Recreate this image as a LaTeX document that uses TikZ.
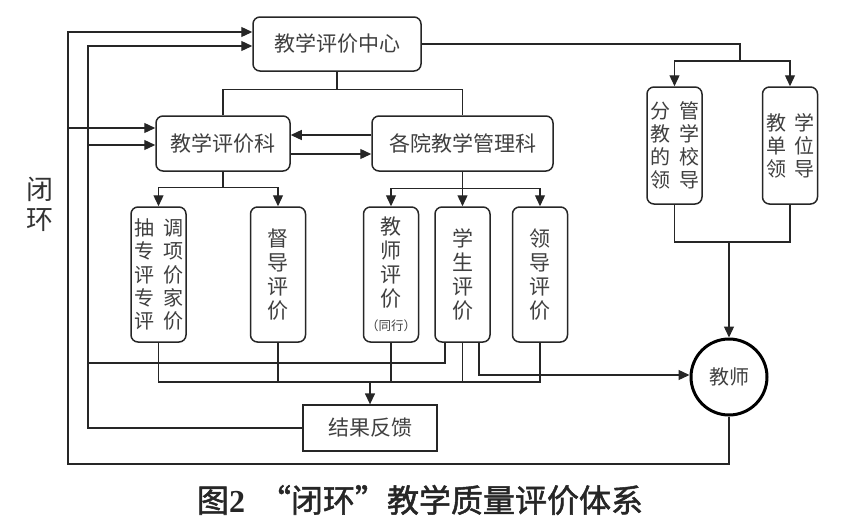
\documentclass[tikz,border=0pt]{standalone}
\usepackage{fontspec}
\newfontfamily\cjk{Noto Sans CJK SC}
\newfontfamily\cjkcap[FakeBold=1.6]{Noto Sans CJK SC}
\newfontfamily\serifb{Liberation Serif}
\usetikzlibrary{arrows.meta}
\begin{document}
\begin{tikzpicture}[x=1pt,y=-1pt,
  line/.style={draw=black!85, line width=1.3pt},
  arr/.style={line, -{Triangle[length=11pt,width=10pt]}},
  rbox/.style={draw=black!85, line width=1.5pt, rounded corners=7pt, fill=white, inner sep=0pt,
    font=\cjk\fontsize{21}{24}\selectfont, text=black!75, align=center},
  vbox/.style={rbox, minimum width=55pt, minimum height=135pt},
  hbox/.style={rbox, minimum width=55pt, minimum height=117pt, font=\cjk\fontsize{20}{23}\selectfont},
]
\useasboundingbox (0,0) rectangle (847,525);

% main boxes
\node[rbox, minimum width=168pt, minimum height=54pt] (center) at (337,44) {教学评价中心};
\node[rbox, minimum width=134pt, minimum height=55pt] (kepj) at (223,143.5) {教学评价科};
\node[rbox, minimum width=181pt, minimum height=55pt] (geyuan) at (462.5,143.5) {各院教学管理科};

% bottom vertical boxes
\node[vbox, font=\cjk\fontsize{20}{23.3}\selectfont] (chou) at (158.5,274.5) {抽\hspace{9pt}调\\专\hspace{9pt}项\\评\hspace{9pt}价\\专\hspace{9pt}家\\评\hspace{9pt}价};
\node[vbox] (dudao) at (278,274.5) {督\\导\\评\\价};
\node[vbox] (jiaoshi) at (391,274.5) {教\\师\\评\\价\\{\fontsize{12.5}{14}\selectfont （同行）}};
\node[vbox] (xuesheng) at (462.5,274.5) {学\\生\\评\\价};
\node[vbox] (lingdao) at (540,274.5) {领\\导\\评\\价};

% right boxes
\node[hbox] (fenguan) at (674.5,145.5) {分\hspace{9pt}管\\教\hspace{9pt}学\\的\hspace{9pt}校\\领\hspace{9pt}导};
\node[hbox] (xuewei) at (790,145.5) {教\hspace{8pt}学\\单\hspace{8pt}位\\领\hspace{8pt}导};

% teacher and feedback
\node[circle, draw=black, line width=3pt, minimum size=76pt, inner sep=0pt,
  font=\cjk\fontsize{20}{24}\selectfont, text=black!75] (teacher) at (729,377) {教师};
\node[draw=black!85, line width=1.3pt, minimum width=134pt, minimum height=46pt, inner sep=0pt,
  font=\cjk\fontsize{21}{24}\selectfont, text=black!75] (result) at (370,428) {结果反馈};

% labels
\node[font=\cjk\fontsize{27}{30}\selectfont, align=center, text=black!80] (bh) at (40,204) {闭\\环};
\node[font=\cjkcap\fontsize{32}{36}\selectfont, text=black!85] (cap) at (420,500) {图{\serifb\bfseries 2}\hspace{14pt}“闭环”教学质量评价体系};

% coordinates
\coordinate (o1) at (68,464);
\coordinate (o2) at (68,32);
\coordinate (ob) at (68,128);
\coordinate (i2) at (88,46);
\coordinate (ib) at (88,145);
\coordinate (i3) at (88,363);
\coordinate (r1) at (740,44);
\coordinate (r2) at (740,61);
\coordinate (m1) at (729,242);
\coordinate (c1) at (370,382);

% outer loop
\draw[arr] (teacher.south) |- (o1) -- (o2) -- (o2 -| center.west);
\draw[arr] (ob) -- (ob -| kepj.west);
% inner loop
\draw[arr] (result.west) -| (i2) -- (i2 -| center.west);
\draw[arr] (ib) -- (ib -| kepj.west);
\draw[line] ([xshift=-17.5pt]xuesheng.south) |- (i3);

% center to subordinate
\draw[line] (center.south) -- ++(0,18) coordinate (t1);
\draw[line] (kepj.north) |- (t1) -| (geyuan.north);

% between kepj and geyuan
\draw[arr] ([yshift=8.5pt]geyuan.west) -- ([yshift=8.5pt]kepj.east);
\draw[arr] ([yshift=-10.5pt]kepj.east) -- ([yshift=-10.5pt]geyuan.west);

% kepj tree
\draw[line] (kepj.south) -- ++(0,16) coordinate (k1);
\draw[arr] (k1) -| (chou.north);
\draw[arr] (k1) -| (dudao.north);

% geyuan tree
\draw[line] (geyuan.south) -- ++(0,17) coordinate (g1);
\draw[arr] (g1) -| (jiaoshi.north);
\draw[arr] (g1) -- (xuesheng.north);
\draw[arr] (g1) -| (lingdao.north);

% center to right
\draw[line] (center.east) -- (r1) -- (r2);
\draw[arr] (r2) -| (fenguan.north);
\draw[arr] (r2) -| (xuewei.north);

% right merge to teacher
\draw[line] (fenguan.south) |- (m1);
\draw[line] (xuewei.south) |- (m1);
\draw[arr] (m1) -- (teacher.north);

% bottom collection
\draw[line] (chou.south) |- (c1) -| (lingdao.south);
\draw[line] (dudao.south) -- (dudao.south |- c1);
\draw[line] (jiaoshi.south) -- (jiaoshi.south |- c1);
\draw[line] (xuesheng.south) -- (xuesheng.south |- c1);
\draw[arr] (c1) -- (result.north);

% student to teacher
\draw[arr] ([xshift=16.5pt]xuesheng.south) |- ([yshift=2pt]teacher.west);
\end{tikzpicture}
\end{document}
